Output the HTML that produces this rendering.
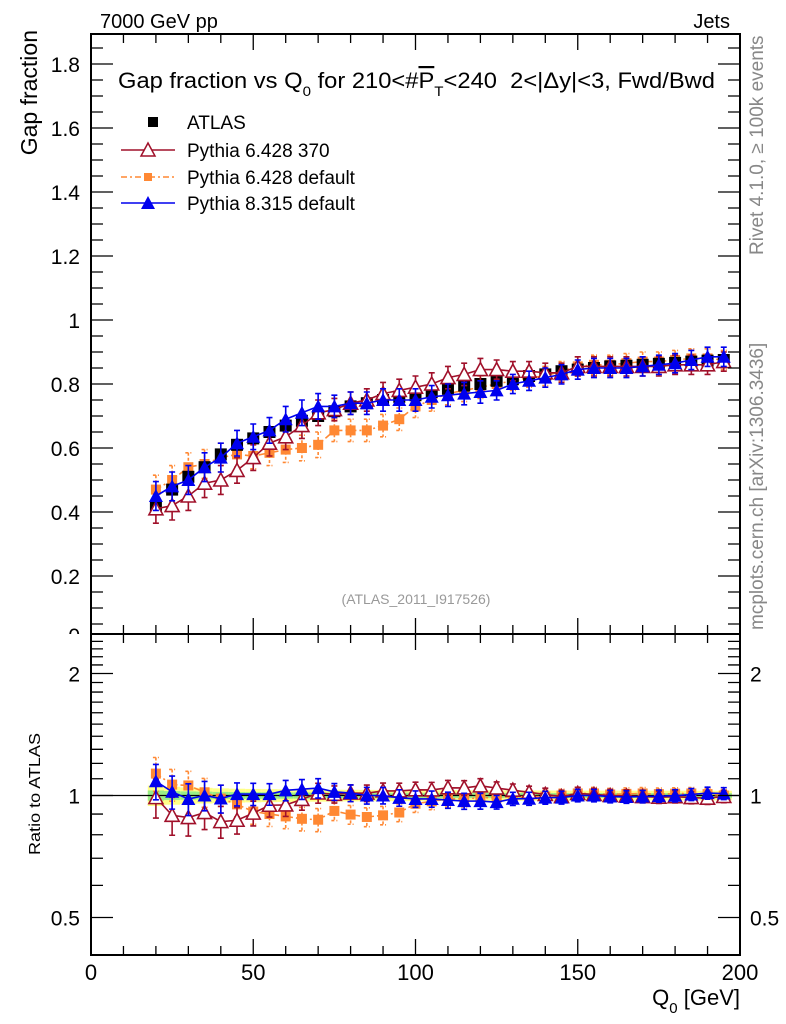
<!DOCTYPE html>
<html><head><meta charset="utf-8">
<style>
body{margin:0;background:#fff;}
svg{display:block;font-family:"Liberation Sans",sans-serif;}
</style></head>
<body>
<svg id="chart" width="786" height="1024" viewBox="0 0 786 1024" xmlns="http://www.w3.org/2000/svg">
<defs><clipPath id="mainclip"><rect x="0" y="0" width="786" height="634"/></clipPath></defs>
<rect width="786" height="1024" fill="#fff"/>
<g id="bands"></g>
<g id="marks"></g>
<g id="axes" stroke="#000" fill="none"></g>
<g id="labels"></g>
<g id="mainlabels" clip-path="url(#mainclip)"></g>
<text x="100" y="28" font-size="20">7000 GeV pp</text>
<text x="730" y="28" font-size="20" text-anchor="end">Jets</text>
<text x="118" y="88" font-size="22" xml:space="preserve" textLength="597" lengthAdjust="spacingAndGlyphs">Gap fraction vs Q<tspan font-size="14" dy="8">0</tspan><tspan dy="-8"> for 210&lt;#</tspan><tspan text-decoration="overline">P</tspan><tspan font-size="14" dy="8">T</tspan><tspan dy="-8">&lt;240  2&lt;|Δy|&lt;3, Fwd/Bwd</tspan></text>
<text font-size="23" transform="translate(37,30) rotate(-90)" text-anchor="end">Gap fraction</text>
<text font-size="16" transform="translate(40,855) rotate(-90)" textLength="122" lengthAdjust="spacingAndGlyphs">Ratio to ATLAS</text>
<text x="740" y="1005" font-size="22" text-anchor="end">Q<tspan font-size="15" dy="8">0</tspan><tspan dy="-8"> [GeV]</tspan></text>
<text font-size="19" fill="#888" transform="translate(763,255) rotate(-90)">Rivet 4.1.0, ≥ 100k events</text>
<text font-size="19" fill="#888" transform="translate(763,630) rotate(-90)">mcplots.cern.ch [arXiv:1306.3436]</text>
<text x="416" y="604" font-size="14" fill="#999" text-anchor="middle">(ATLAS_2011_I917526)</text>
<g id="legend" font-size="19">
<rect x="148" y="117" width="10" height="10" fill="#000"/>
<text x="187" y="129">ATLAS</text>
<line x1="121" y1="150" x2="175" y2="150" stroke="#a0102a" stroke-width="1.5"/>
<polygon points="148,143 141,156 155,156" fill="#fff" stroke="#a0102a" stroke-width="1.5"/>
<text x="187" y="157">Pythia 6.428 370</text>
<line x1="121" y1="177" x2="175" y2="177" stroke="#ff8833" stroke-width="1.5" stroke-dasharray="6,3,2,3"/>
<rect x="144" y="173" width="8" height="8" fill="#ff8833"/>
<text x="187" y="184">Pythia 6.428 default</text>
<line x1="121" y1="203" x2="175" y2="203" stroke="#0000ee" stroke-width="1.5"/>
<polygon points="148,196 141,209 155,209" fill="#0000ee"/>
<text x="187" y="210">Pythia 8.315 default</text>
</g>
</svg>
<script>
const xs = [20,25,30,35,40,45,50,55,60,65,70,75,80,85,90,95,100,105,110,115,120,125,130,135,140,145,150,155,160,165,170,175,180,185,190,195];
const atlas = [0.415,0.47,0.51,0.54,0.58,0.61,0.63,0.65,0.67,0.685,0.70,0.715,0.73,0.74,0.75,0.76,0.765,0.775,0.785,0.795,0.80,0.81,0.815,0.825,0.83,0.84,0.845,0.85,0.855,0.857,0.86,0.863,0.866,0.87,0.873,0.875];
const atlasErr = [0.012,0.012,0.012,0.012,0.012,0.012,0.012,0.012,0.012,0.012,0.012,0.012,0.012,0.012,0.012,0.012,0.012,0.012,0.012,0.012,0.012,0.012,0.012,0.012,0.012,0.012,0.012,0.012,0.012,0.012,0.012,0.012,0.012,0.012,0.012,0.012];
const py6_370 = [0.41,0.42,0.45,0.49,0.50,0.53,0.57,0.615,0.635,0.67,0.71,0.72,0.74,0.75,0.77,0.78,0.79,0.80,0.82,0.83,0.845,0.845,0.84,0.84,0.835,0.835,0.855,0.855,0.855,0.855,0.855,0.855,0.86,0.86,0.86,0.87];
const py6_def = [0.47,0.50,0.54,0.55,0.57,0.58,0.575,0.585,0.595,0.60,0.61,0.655,0.655,0.655,0.67,0.69,0.73,0.75,0.77,0.78,0.79,0.80,0.81,0.82,0.825,0.84,0.855,0.86,0.86,0.865,0.87,0.87,0.875,0.88,0.88,0.875];
const py8_def = [0.45,0.48,0.50,0.54,0.57,0.615,0.635,0.655,0.69,0.71,0.73,0.73,0.74,0.74,0.75,0.75,0.75,0.76,0.765,0.77,0.775,0.78,0.80,0.81,0.82,0.83,0.845,0.85,0.85,0.85,0.855,0.86,0.865,0.875,0.885,0.885];
const mcErr = [0.045,0.045,0.045,0.045,0.045,0.04,0.04,0.04,0.04,0.04,0.04,0.035,0.035,0.035,0.035,0.035,0.035,0.035,0.035,0.035,0.035,0.03,0.03,0.03,0.03,0.03,0.03,0.03,0.03,0.03,0.03,0.03,0.03,0.03,0.03,0.03];
const xTicks = [0,50,100,150,200];
const yTicks = [0,0.2,0.4,0.6,0.8,1,1.2,1.4,1.6,1.8];
const rTicks = [0.5,1,2];

const L=91,R=740,T=34,MB=634,RB=955;
const X=v=>L+(v/200)*(R-L);
const Y=v=>640-v*320;
const RY=r=>795.5-122*Math.log2(r);
const NS="http://www.w3.org/2000/svg";
function mk(tag,parent,attrs){const e=document.createElementNS(NS,tag);for(const k in attrs)e.setAttribute(k,attrs[k]);document.getElementById(parent).appendChild(e);return e;}

for(let i=0;i<xs.length;i++){
  const x0=X(xs[i]-2.5),x1=X(xs[i]+2.5);
  const rel=atlasErr[i]/atlas[i];
  let e=mk('rect','bands',{x:x0,y:RY(1+2*rel),width:x1-x0,height:RY(1-2*rel)-RY(1+2*rel),fill:'#ffff88'});
  
  
  e=mk('rect','bands',{x:x0,y:RY(1+rel),width:x1-x0,height:RY(1-rel)-RY(1+rel),fill:'#99ee88'});
  
  
}
let ln=mk('line','bands',{x1:L,x2:R,y1:RY(1),y2:RY(1),stroke:'#000','stroke-width':1.2});



function marker(type,cx,cy,color,name){
  let e;
  if(type==='sq') e=mk('rect','marks',{x:cx-6,y:cy-6,width:12,height:12,fill:color});
  else if(type==='osq') e=mk('rect','marks',{x:cx-5,y:cy-5,width:10,height:10,fill:color});
  else if(type==='otri') e=mk('polygon','marks',{points:`${cx},${cy-7} ${cx-7},${cy+6} ${cx+7},${cy+6}`,fill:'#fff',stroke:color,'stroke-width':1.6});
  else e=mk('polygon','marks',{points:`${cx},${cy-7} ${cx-7},${cy+6} ${cx+7},${cy+6}`,fill:color});
  
  
}
function series(vals,err,color,type,name,dash,ratio){
  const fy=ratio?(i=>RY(vals[i]/atlas[i])):(i=>Y(vals[i]));
  const fe=ratio?((i,s)=>RY((vals[i]+s*err[i])/atlas[i])):((i,s)=>Y(vals[i]+s*err[i]));
  if(type!=='sq'){
    const pts=xs.map((x,i)=>`${X(x)},${fy(i)}`).join(' ');
    const p=mk('polyline','marks',{points:pts,fill:'none',stroke:color,'stroke-width':1.6,'stroke-dasharray':dash||'none'});
    
    
  }
  xs.forEach((x,i)=>{
    const cx=X(x);
    const b=mk('path','marks',{d:`M${cx},${fe(i,1)}V${fe(i,-1)}M${cx-3},${fe(i,1)}h6M${cx-3},${fe(i,-1)}h6`,stroke:color,'stroke-width':1.6,fill:'none','stroke-dasharray':dash?'3,2':'none'});
    
    
    marker(type,cx,fy(i),color,name+'-point');
  });
}
series(py6_def,mcErr,'#ff8833','osq','pythia6-default','6,3,2,3',false);
series(atlas,atlasErr,'#000','sq','atlas',null,false);
series(py6_370,mcErr,'#a0102a','otri','pythia6-370',null,false);
series(py8_def,mcErr,'#0000ee','tri','pythia8-default',null,false);
series(py6_def,mcErr,'#ff8833','osq','ratio-pythia6-default','6,3,2,3',true);
series(py6_370,mcErr,'#a0102a','otri','ratio-pythia6-370',null,true);
series(py8_def,mcErr,'#0000ee','tri','ratio-pythia8-default',null,true);

let f=mk('rect','axes',{x:L,y:T,width:R-L,height:MB-T,'stroke-width':2});


f=mk('rect','axes',{x:L,y:MB,width:R-L,height:RB-MB,'stroke-width':2});


let d='';
for(let v=0;v<=200;v+=10){const big=v%50===0;const x=X(v);const h=big?16:9;
  d+=`M${x},${MB}v${-h}M${x},${T}v${h}M${x},${RB}v${-h}M${x},${MB}v${h}`;}
for(let v=0;v<=1.9001;v+=0.05){const y=Y(v);if(y<T||y>MB)continue;const big=Math.abs(v/0.2-Math.round(v/0.2))<1e-6;const h=big?22:12;
  d+=`M${L},${y}h${h}M${R},${y}h${-h}`;}
const rmin=[0.5,0.6,0.7,0.8,0.9,1,1.1,1.2,1.3,1.4,1.5,1.6,1.7,1.8,1.9,2,2.1,2.2,2.3,2.4];
rmin.forEach(r=>{const y=RY(r);if(y<MB||y>RB)return;const big=rTicks.includes(r);const h=big?22:12;d+=`M${L},${y}h${h}M${R},${y}h${-h}`;});
let tk=mk('path','axes',{d:d,'stroke-width':1.3});



xTicks.forEach(v=>{const t=mk('text','labels',{x:X(v),y:980,'font-size':22,'text-anchor':'middle'});t.textContent=v;
  
  });
yTicks.forEach(v=>{const t=mk('text','mainlabels',{x:80,y:v===0?Y(v)+3:Y(v)+8,'font-size':21,'text-anchor':'end'});t.textContent=String(v);
  
  });
rTicks.forEach(v=>{[[80,'end'],[750,'start']].forEach(([x,a])=>{const t=mk('text','labels',{x:x,y:RY(v)+8,'font-size':21,'text-anchor':a});t.textContent=String(v);
  
  });});
</script>
</body></html>
